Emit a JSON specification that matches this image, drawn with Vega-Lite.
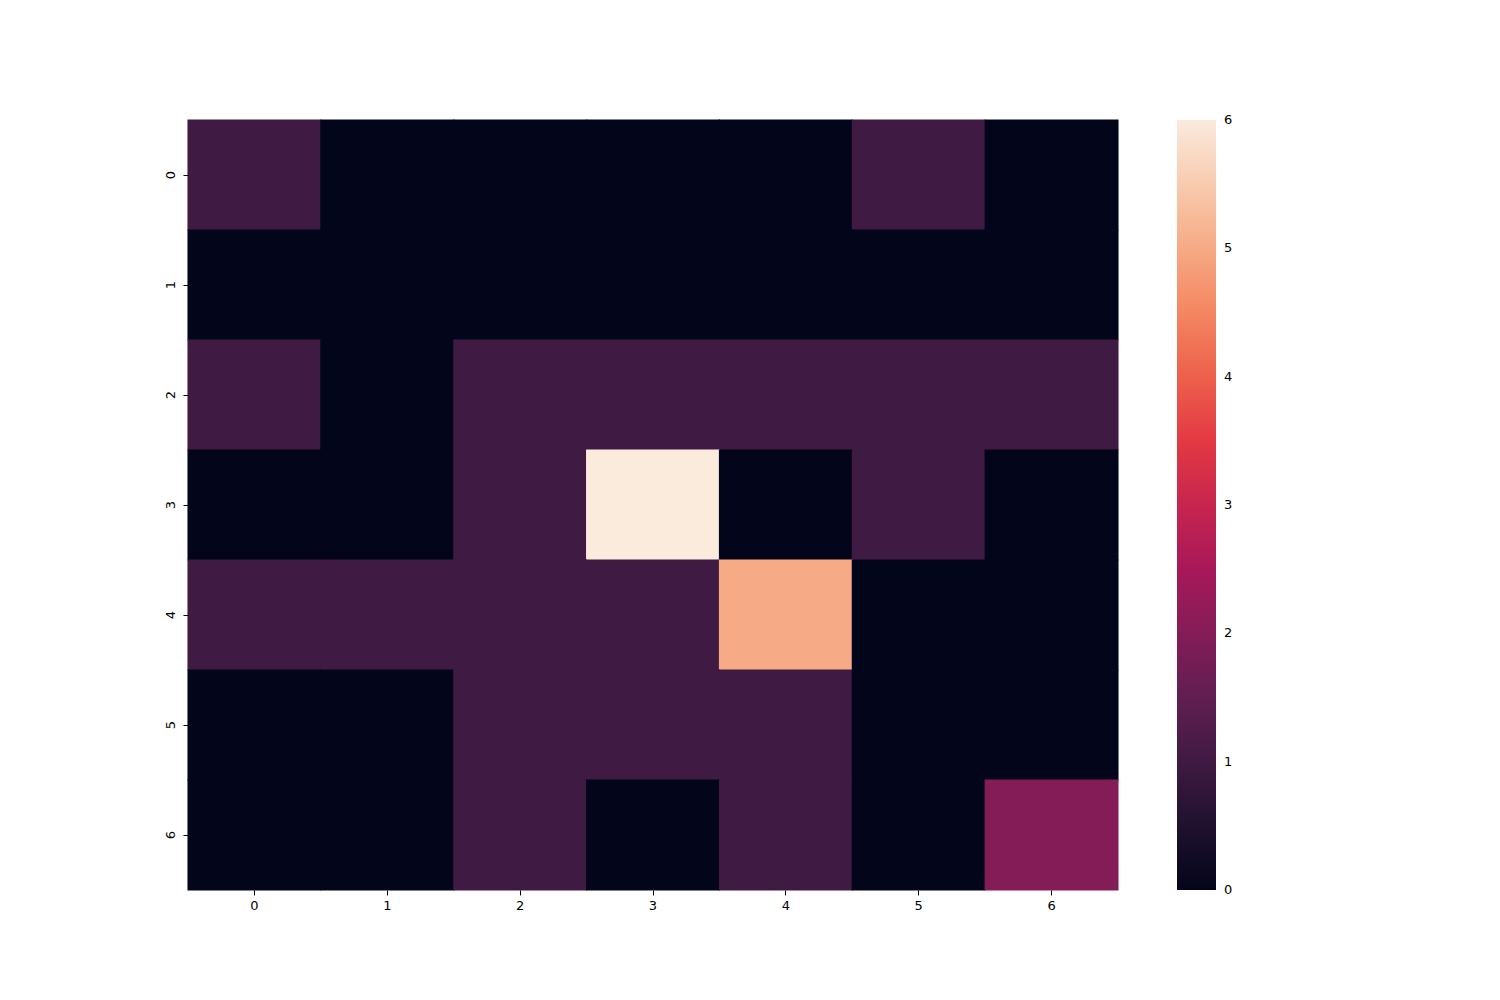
{
  "$schema": "https://vega.github.io/schema/vega-lite/v6.json",
  "width": 930,
  "height": 770,
  "autosize": {"type": "none"},
  "padding": {"left": 188, "top": 120, "right": 382, "bottom": 110},
  "background": "white",
  "config": {
    "view": {"stroke": null},
    "font": "DejaVu Sans",
    "axis": {"labelFont": "DejaVu Sans", "labelFontSize": 13, "labelColor": "#000", "tickColor": "#000", "tickSize": 5, "domain": false, "grid": false, "title": null, "labelPadding": 4},
    "legend": {"labelFont": "DejaVu Sans", "labelFontSize": 13, "labelColor": "#000"}
  },
  "data": {
    "values": [
      {"row": 0, "col": 0, "v": 1}, {"row": 0, "col": 1, "v": 0}, {"row": 0, "col": 2, "v": 0}, {"row": 0, "col": 3, "v": 0}, {"row": 0, "col": 4, "v": 0}, {"row": 0, "col": 5, "v": 1}, {"row": 0, "col": 6, "v": 0},
      {"row": 1, "col": 0, "v": 0}, {"row": 1, "col": 1, "v": 0}, {"row": 1, "col": 2, "v": 0}, {"row": 1, "col": 3, "v": 0}, {"row": 1, "col": 4, "v": 0}, {"row": 1, "col": 5, "v": 0}, {"row": 1, "col": 6, "v": 0},
      {"row": 2, "col": 0, "v": 1}, {"row": 2, "col": 1, "v": 0}, {"row": 2, "col": 2, "v": 1}, {"row": 2, "col": 3, "v": 1}, {"row": 2, "col": 4, "v": 1}, {"row": 2, "col": 5, "v": 1}, {"row": 2, "col": 6, "v": 1},
      {"row": 3, "col": 0, "v": 0}, {"row": 3, "col": 1, "v": 0}, {"row": 3, "col": 2, "v": 1}, {"row": 3, "col": 3, "v": 6}, {"row": 3, "col": 4, "v": 0}, {"row": 3, "col": 5, "v": 1}, {"row": 3, "col": 6, "v": 0},
      {"row": 4, "col": 0, "v": 1}, {"row": 4, "col": 1, "v": 1}, {"row": 4, "col": 2, "v": 1}, {"row": 4, "col": 3, "v": 1}, {"row": 4, "col": 4, "v": 5}, {"row": 4, "col": 5, "v": 0}, {"row": 4, "col": 6, "v": 0},
      {"row": 5, "col": 0, "v": 0}, {"row": 5, "col": 1, "v": 0}, {"row": 5, "col": 2, "v": 1}, {"row": 5, "col": 3, "v": 1}, {"row": 5, "col": 4, "v": 1}, {"row": 5, "col": 5, "v": 0}, {"row": 5, "col": 6, "v": 0},
      {"row": 6, "col": 0, "v": 0}, {"row": 6, "col": 1, "v": 0}, {"row": 6, "col": 2, "v": 1}, {"row": 6, "col": 3, "v": 0}, {"row": 6, "col": 4, "v": 1}, {"row": 6, "col": 5, "v": 0}, {"row": 6, "col": 6, "v": 2}
    ]
  },
  "mark": {"type": "rect", "strokeWidth": 0, "width": {"band": 1.008}, "height": {"band": 1.008}},
  "encoding": {
    "x": {"field": "col", "type": "ordinal", "scale": {"paddingInner": 0, "paddingOuter": 0}, "axis": {"labelAngle": 0}},
    "y": {"field": "row", "type": "ordinal", "scale": {"paddingInner": 0, "paddingOuter": 0}, "axis": {"labelAngle": -90, "labelAlign": "center", "labelBaseline": "bottom", "labelPadding": 6}},
    "color": {
      "field": "v",
      "type": "quantitative",
      "scale": {"domain": [0, 6], "range": ["#03051a", "#35193e", "#701f57", "#ad1759", "#e13342", "#f37651", "#f6b48f", "#faebdd"], "interpolate": "rgb"},
      "legend": {
        "type": "gradient",
        "title": null,
        "orient": "none",
        "legendX": 989,
        "legendY": 0,
        "direction": "vertical",
        "gradientLength": 770,
        "gradientThickness": 39,
        "gradientStrokeWidth": 0,
        "values": [0, 1, 2, 3, 4, 5, 6],
        "format": "d",
        "labelBaseline": "middle",
        "labelOffset": 8,
        "labelOverlap": false,
        "encode": {"labels": {"update": {"baseline": {"value": "middle"}}}}
      }
    }
  }
}
